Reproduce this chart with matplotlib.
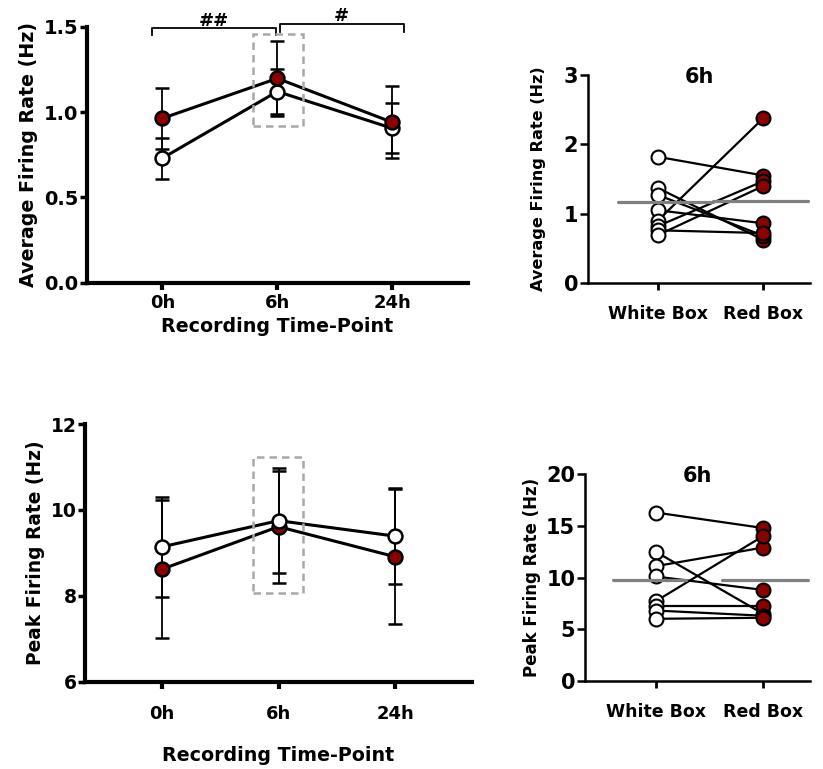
import matplotlib
matplotlib.use("Agg")
import matplotlib.pyplot as plt
from matplotlib.patches import Rectangle
import numpy as np

# ---- data ----
time_labels = ["0h", "6h", "24h"]

avg_white = [0.73, 1.12, 0.905]
avg_white_err = [0.12, 0.13, 0.145]
avg_red = [0.963, 1.197, 0.94]
avg_red_err = [0.18, 0.22, 0.21]

peak_white = [9.14, 9.75, 9.39]
peak_white_err = [1.17, 1.22, 1.12]
peak_red = [8.62, 9.61, 8.91]
peak_red_err = [1.60, 1.30, 1.57]

box_labels = ["White Box", "Red Box"]

avg6_white = [1.82, 1.37, 1.27, 1.05, 0.90, 0.82, 0.76, 0.69]
avg6_red = [1.55, 0.62, 0.68, 0.86, 2.38, 1.47, 0.72, 1.40]
avg6_means = [1.17, 1.18]

peak6_white = [16.3, 12.5, 11.1, 10.1, 7.7, 7.2, 6.8, 6.0]
peak6_red = [14.8, 6.5, 12.9, 8.8, 14.0, 7.2, 6.3, 6.1]
peak6_means = [9.8, 9.75]

RED = "#8b0000"
GREY = "#808080"
plt.rcParams["font.family"] = ["DejaVu Sans"]
plt.rcParams["font.weight"] = "bold"

fig = plt.figure(figsize=(8.23, 7.69), dpi=100)


def time_panel(rect, white, werr, red, rerr, ylim, yticks, yfmt, ylabel,
               tick_fs, lab_fs, xpad, red_first, box):
    ax = fig.add_axes(rect)
    x = np.arange(len(time_labels))
    series = [(white, werr, "white"), (red, rerr, RED)]
    if red_first:
        series = series[::-1]
    for vals, err, col in series:
        ax.errorbar(x, vals, yerr=err, color="black", lw=2.2, elinewidth=1.3,
                    capsize=5, capthick=1.3, marker="o", ms=10,
                    mfc=col, mec="black", mew=1.8, zorder=3)
    ax.add_patch(Rectangle((box[0], box[1]), box[2], box[3], fill=False,
                           ls=(0, (3, 2)), lw=1.8, ec="#a8a8a8", zorder=4))
    ax.set_xlim(-0.66, 2.66)
    ax.set_ylim(*ylim)
    ax.set_yticks(yticks)
    ax.set_yticklabels([yfmt.format(v) for v in yticks], fontsize=tick_fs,
                       fontweight="bold")
    ax.set_xticks(x)
    ax.set_xticklabels(time_labels, fontsize=13, fontweight="bold")
    ax.tick_params(axis="x", length=5, width=3, pad=xpad)
    ax.tick_params(axis="y", length=5, width=2.5, pad=1)
    for s in ["top", "right"]:
        ax.spines[s].set_visible(False)
    for s in ["left", "bottom"]:
        ax.spines[s].set_linewidth(3)
    ax.set_ylabel(ylabel, fontsize=lab_fs, fontweight="bold")
    return ax


def box_panel(rect, white, red, means, spans, ylim, yticks, ylabel, lab_fs,
              lab_pad):
    ax = fig.add_axes(rect)
    for w, r in zip(white, red):
        ax.plot([0, 1], [w, r], color="black", lw=1.6, zorder=2)
    ax.plot(np.zeros(len(white)), white, "o", ms=10, mfc="white",
            mec="black", mew=1.5, zorder=3)
    ax.plot(np.ones(len(red)), red, "o", ms=10, mfc=RED,
            mec="black", mew=1.5, zorder=3)
    for i, (m, sp) in enumerate(zip(means, spans)):
        ax.plot([i + sp[0], i + sp[1]], [m, m], color=GREY, lw=2.3,
                solid_capstyle="round", zorder=4)
    ax.set_xlim(-0.66, 1.44)
    ax.set_ylim(*ylim)
    ax.set_yticks(yticks)
    ax.set_yticklabels([str(v) for v in yticks], fontsize=15,
                       fontweight="bold")
    ax.set_xticks([0, 1])
    ax.set_xticklabels(box_labels, fontsize=12.5, fontweight="bold")
    ax.tick_params(axis="x", length=5, width=2, pad=11)
    ax.tick_params(axis="y", length=6, width=1.8, pad=1)
    for s in ["top", "right"]:
        ax.spines[s].set_visible(False)
    for s in ["left", "bottom"]:
        ax.spines[s].set_linewidth(1.8)
    ax.set_ylabel(ylabel, fontsize=lab_fs, fontweight="bold", labelpad=lab_pad)
    ax.text(0.5, 0.99, "6h", transform=ax.transAxes, ha="center",
            va="center", fontsize=15, fontweight="bold")
    return ax


# top-left: average firing rate over time
ax1 = time_panel([0.1053, 0.6324, 0.4633, 0.3329], avg_white, avg_white_err,
                 avg_red, avg_red_err, (0, 1.5), [0, 0.5, 1.0, 1.5], "{:.1f}",
                 "Average Firing Rate (Hz)", 14, 13.7, 3, False,
                 (0.79, 0.918, 0.43, 0.539))
ax1.set_xlabel("Recording Time-Point", fontsize=13.7, fontweight="bold",
               labelpad=4)
# significance brackets
ax1.plot([-0.09, -0.09, 0.99, 0.99], [1.451, 1.490, 1.490, 1.451],
         color="black", lw=1.3, clip_on=False)
ax1.plot([1.02, 1.02, 2.10, 2.10], [1.470, 1.515, 1.515, 1.470],
         color="black", lw=1.3, clip_on=False)
ax1.text(0.45, 1.535, "##", ha="center", va="center", fontsize=13,
         fontweight="bold")
ax1.text(1.56, 1.56, "#", ha="center", va="center", fontsize=13,
         fontweight="bold")

# bottom-left: peak firing rate over time
ax2 = time_panel([0.1033, 0.1135, 0.4702, 0.3351], peak_white, peak_white_err,
                 peak_red, peak_red_err, (6, 12), [6, 8, 10, 12], "{:d}",
                 "Peak Firing Rate (Hz)", 13.5, 13.4, 12, True,
                 (0.785, 8.06, 0.425, 3.17))
ax2.set_xlabel("Recording Time-Point", fontsize=13.7, fontweight="bold",
               labelpad=16)

# top-right: 6h average firing rate, paired
box_panel([0.7145, 0.632, 0.2697, 0.2705], avg6_white, avg6_red, avg6_means,
          [(-0.38, 0.52), (-0.48, 0.42)], (0, 3), [0, 1, 2, 3],
          "Average Firing Rate (Hz)", 11.6, 13)

# bottom-right: 6h peak firing rate, paired
box_panel([0.7108, 0.1148, 0.2734, 0.2684], peak6_white, peak6_red,
          peak6_means, [(-0.40, 0.28), (-0.38, 0.42)], (0, 20),
          [0, 5, 10, 15, 20], "Peak Firing Rate (Hz)", 12, 4)

fig.savefig("out.png", dpi=100)
